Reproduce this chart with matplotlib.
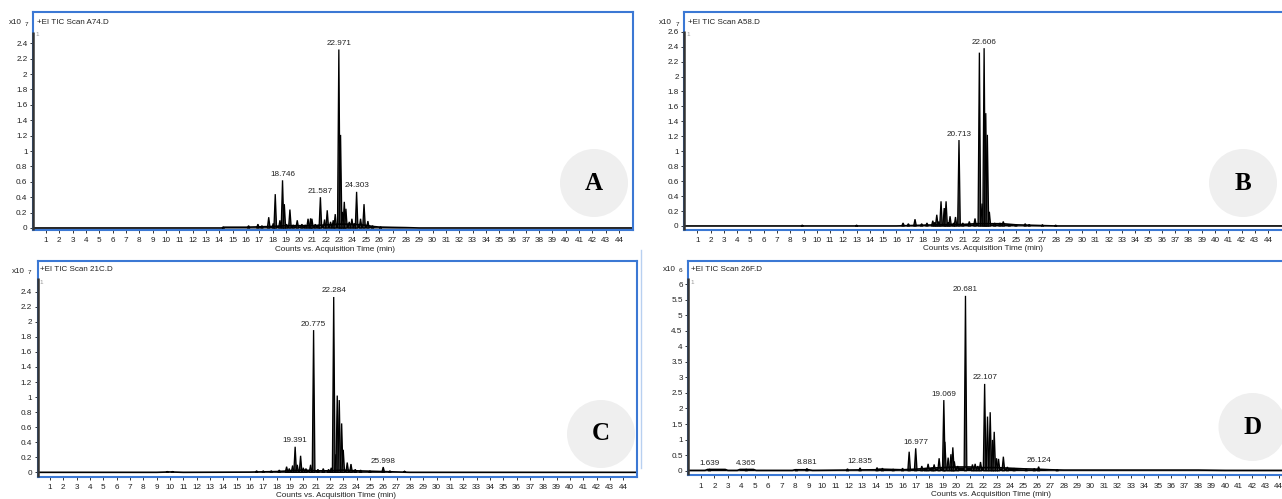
import matplotlib
matplotlib.use("Agg")
import matplotlib.pyplot as plt
from matplotlib.patches import Ellipse
from matplotlib.lines import Line2D

plt.rcParams['font.family'] = ['Liberation Sans', 'DejaVu Sans']
plt.rcParams['mathtext.default'] = 'regular'

W, H = 1282, 499
BLUE = '#3b78d4'
TXT = '#222222'

# ---------------- chromatogram data (retention time in min, abundance) ----------------
# Sample A74 (x10^7 counts)
a_peak_t = [14.3, 16.2, 16.9, 17.2, 17.71, 18.05, 18.2, 18.55, 18.746, 18.88, 19.05, 19.30,
            19.55, 19.85, 20.2, 20.45, 20.66, 20.85, 20.95, 21.2, 21.45, 21.587, 21.9, 22.10,
            22.35, 22.55, 22.7, 22.971, 23.1, 23.23, 23.38, 23.50, 23.75, 23.95, 24.15,
            24.303, 24.6, 24.86, 25.15, 25.5, 26.1]
a_peak_h = [0.01, 0.03, 0.05, 0.03, 0.14, 0.06, 0.44, 0.1, 0.62, 0.31, 0.05, 0.24,
            0.04, 0.10, 0.05, 0.04, 0.12, 0.125, 0.12, 0.05, 0.04, 0.40, 0.11, 0.23,
            0.08, 0.10, 0.18, 2.32, 1.21, 0.21, 0.34, 0.25, 0.08, 0.12, 0.06,
            0.47, 0.12, 0.31, 0.09, 0.03, 0.015]
a_base_t = [0, 14.2, 14.3, 16, 17, 18, 19, 20, 21, 22, 23, 24, 25, 25.5, 26, 27, 28, 29, 46]
a_base_v = [0, 0, 0.01, 0.01, 0.015, 0.02, 0.03, 0.03, 0.03, 0.04, 0.05, 0.05, 0.035, 0.02,
            0.012, 0.008, 0.005, 0.0, 0]
a_labels = [18.746, 21.587, 22.971, 24.303]

# Sample A58 (x10^7 counts)
b_peak_t = [8.9, 13.0, 16.5, 16.9, 17.4, 17.9, 18.3, 18.74, 18.9, 19.04, 19.2, 19.36, 19.6,
            19.74, 19.9, 20.04, 20.3, 20.45, 20.713, 21.0, 21.49, 21.92, 22.25, 22.45, 22.606,
            22.73, 22.85, 23.0, 23.4, 23.8, 24.05, 24.5, 25.0, 25.7, 26.0, 27.0, 28.0]
b_peak_h = [0.01, 0.01, 0.04, 0.03, 0.09, 0.03, 0.04, 0.07, 0.05, 0.15, 0.06, 0.33, 0.24,
            0.33, 0.05, 0.13, 0.04, 0.12, 1.15, 0.04, 0.06, 0.1, 2.32, 0.3, 2.38,
            1.51, 1.22, 0.19, 0.04, 0.04, 0.06, 0.02, 0.02, 0.03, 0.02, 0.015, 0.01]
b_base_t = [0, 16, 17, 18, 19, 20, 21, 22, 23, 24, 25, 26, 27, 28, 46]
b_base_v = [0, 0, 0.005, 0.01, 0.015, 0.02, 0.02, 0.03, 0.03, 0.03, 0.015, 0.01, 0.005, 0, 0]
b_labels = [20.713, 22.606]

# Sample 21C (x10^7 counts)
c_peak_t = [9.8, 10.2, 16.5, 17.0, 17.6, 18.2, 18.75, 18.95, 19.2, 19.391, 19.55, 19.8, 20.0,
            20.2, 20.55, 20.775, 21.1, 21.5, 21.9, 22.1, 22.284, 22.45, 22.55, 22.70, 22.88,
            23.0, 23.3, 23.58, 23.9, 24.3, 25.0, 25.998, 26.5, 27.6]
c_peak_h = [0.01, 0.01, 0.02, 0.02, 0.02, 0.03, 0.075, 0.05, 0.09, 0.34, 0.1, 0.22, 0.06,
            0.05, 0.1, 1.89, 0.04, 0.05, 0.04, 0.06, 2.33, 0.24, 1.02, 0.96, 0.65,
            0.3, 0.13, 0.11, 0.04, 0.03, 0.02, 0.07, 0.02, 0.015]
c_base_t = [0, 9, 10, 11, 16, 18, 19, 20, 21, 22, 23, 24, 25, 26, 27, 28, 46]
c_base_v = [0, 0, 0.005, 0, 0.003, 0.01, 0.02, 0.03, 0.02, 0.02, 0.03, 0.02, 0.015, 0.01,
            0.005, 0, 0]
c_labels = [19.391, 20.775, 22.284, 25.998]

# Sample 26F (x10^6 counts)
d_peak_t = [1.639, 4.365, 8.1, 8.881, 11.9, 12.835, 14.1, 14.5, 15.3, 16.0, 16.49, 16.977,
            17.43, 17.7, 17.9, 18.2, 18.35, 18.72, 19.069, 19.15, 19.39, 19.6, 19.74, 19.85,
            20.1, 20.681, 21.2, 21.4, 21.6, 21.8, 22.107, 22.32, 22.52, 22.69, 22.82, 22.99,
            23.14, 23.5, 23.8, 24.3, 25.2, 25.8, 26.124, 27.5]
d_peak_h = [0.05, 0.05, 0.04, 0.07, 0.06, 0.09, 0.1, 0.08, 0.05, 0.08, 0.61, 0.72,
            0.15, 0.08, 0.22, 0.1, 0.2, 0.4, 2.27, 0.93, 0.42, 0.53, 0.75, 0.3,
            0.15, 5.62, 0.2, 0.22, 0.15, 0.28, 2.79, 1.74, 1.88, 0.99, 1.25, 0.4,
            0.38, 0.45, 0.12, 0.08, 0.05, 0.07, 0.13, 0.03]
d_base_t = [0, 1.3, 1.5, 2.8, 3.0, 3.7, 3.9, 4.9, 5.1, 7.8, 8.0, 9.0, 9.3, 14.0, 14.3, 16,
            17, 18, 19, 20, 21, 22, 23, 24, 25, 26, 27, 28, 38, 40, 46]
d_base_v = [0.01, 0.01, 0.04, 0.04, 0.01, 0.01, 0.04, 0.04, 0.01, 0.01, 0.03, 0.03, 0.01,
            0.03, 0.05, 0.03, 0.05, 0.08, 0.1, 0.12, 0.12, 0.1, 0.1, 0.08, 0.06, 0.05, 0.03,
            0.02, 0.02, 0.01, 0.01]
d_labels = [1.639, 4.365, 8.881, 12.835, 16.977, 19.069, 20.681, 22.107, 26.124]

x_ticks = list(range(1, 45))
y_ticks_7a = [0, 0.2, 0.4, 0.6, 0.8, 1, 1.2, 1.4, 1.6, 1.8, 2, 2.2, 2.4]
y_ticks_7b = [0, 0.2, 0.4, 0.6, 0.8, 1, 1.2, 1.4, 1.6, 1.8, 2, 2.2, 2.4, 2.6]
y_ticks_6 = [0, 0.5, 1, 1.5, 2, 2.5, 3, 3.5, 4, 4.5, 5, 5.5, 6]

titles = ['+EI TIC Scan A74.D', '+EI TIC Scan A58.D', '+EI TIC Scan 21C.D', '+EI TIC Scan 26F.D']
exponents = ['7', '7', '7', '6']
letters = ['A', 'B', 'C', 'D']
x_title = 'Counts vs. Acquisition Time (min)'

HW = 0.1  # half-width of a drawn peak, min


def fx(x):
    return x / W


def fy(y):
    return 1 - y / H


def tick_str(v):
    return ('%g' % v)


fig = plt.figure(figsize=(W / 100, H / 100), dpi=100)
fig.patch.set_facecolor('white')

panels = [
    dict(box=(33, 633, 12, 230), xlim=(0.025, 45.04), ylim=(-0.026, 2.807), spine_top=0.91,
         t=a_peak_t, h=a_peak_h, bt=a_base_t, bv=a_base_v, labels=a_labels, yticks=y_ticks_7a,
         exp_xy=(8.5, 23), title_xy=(37, 22.5), one_xy=(35.5, 35), xlab_xy=(335, 249.5),
         circ=(594, 183)),
    dict(box=(684.3, 1292, 12, 230), xlim=(0.02, 45.8), ylim=(-0.054, 2.864), spine_top=0.914,
         t=b_peak_t, h=b_peak_h, bt=b_base_t, bv=b_base_v, labels=b_labels, yticks=y_ticks_7b,
         exp_xy=(659, 22.5), title_xy=(688, 22), one_xy=(686.5, 35), xlab_xy=(983, 248.5),
         circ=(1243, 183)),
    dict(box=(37.7, 637.3, 261, 476.7), xlim=(0.077, 45.06), ylim=(-0.058, 2.808), spine_top=0.92,
         t=c_peak_t, h=c_peak_h, bt=c_base_t, bv=c_base_v, labels=c_labels, yticks=y_ticks_7a,
         exp_xy=(11.5, 271.5), title_xy=(40, 269.5), one_xy=(39.5, 283), xlab_xy=(336, 495.5),
         circ=(601, 434)),
    dict(box=(688.3, 1292, 261, 475), xlim=(0.054, 44.98), ylim=(-0.138, 6.74), spine_top=0.919,
         t=d_peak_t, h=d_peak_h, bt=d_base_t, bv=d_base_v, labels=d_labels, yticks=y_ticks_6,
         exp_xy=(662.5, 269.5), title_xy=(691, 269.5), one_xy=(690.5, 283), xlab_xy=(991, 494.5),
         circ=(1252.5, 427)),
]

for i, p in enumerate(panels):
    l, r, top, bot = p['box']
    ax = fig.add_axes([fx(l), fy(bot), (r - l) / W, (bot - top) / H])
    ax.set_xlim(*p['xlim'])
    ax.set_ylim(*p['ylim'])
    for s in ax.spines.values():
        s.set_color(BLUE)
        s.set_linewidth(1.5)
    # y axis line
    ax.plot([0, 0], [0, p['spine_top']], transform=ax.transAxes, color='#333333', lw=1.8,
            clip_on=False, solid_capstyle='butt', zorder=5)

    # baseline
    ax.fill_between(p['bt'], p['bv'], 0, color='black', lw=0)
    ax.plot(p['bt'], p['bv'], color='black', lw=1.2)
    # peaks
    for ti, hi in zip(p['t'], p['h']):
        ax.fill([ti - HW, ti, ti + HW], [0, hi, 0], facecolor='#4a4a4a', edgecolor='black',
                lw=0.95, joinstyle='miter')

    # peak labels
    for lab in p['labels']:
        hi = p['h'][p['t'].index(lab)]
        ax.annotate('%.3f' % lab, xy=(lab, hi), xytext=(0, 1.8), textcoords='offset points',
                    ha='center', va='bottom', fontsize=5.9, color=TXT)

    ax.set_xticks(x_ticks)
    ax.set_xticklabels([str(v) for v in x_ticks])
    ax.set_yticks(p['yticks'])
    ax.set_yticklabels([tick_str(v) for v in p['yticks']])
    ax.tick_params(axis='x', direction='out', length=2.4, width=0.7, color='#333333',
                   labelcolor=TXT, labelsize=5.9, pad=3.0)
    ax.tick_params(axis='y', direction='out', length=2.2, width=0.7, color='#333333',
                   labelcolor=TXT, labelsize=5.9, pad=1.8)

    # headers and axis title
    ex, ey = p['exp_xy']
    fig.text(fx(ex), fy(ey), 'x10', fontsize=5.8, color=TXT, ha='left', va='center')
    fig.text(fx(ex + 16.5), fy(ey + 1.5), exponents[i], fontsize=4.6, color=TXT, ha='left',
             va='center')
    tx, ty = p['title_xy']
    fig.text(fx(tx), fy(ty), titles[i], fontsize=5.8, color=TXT, ha='left', va='center')
    ox, oy = p['one_xy']
    fig.text(fx(ox), fy(oy), '1', fontsize=4.5, color='#999999', ha='left', va='center')
    xx, xy = p['xlab_xy']
    fig.text(fx(xx), fy(xy), x_title, fontsize=5.9, color=TXT, ha='center', va='center')

    # panel letter badge
    cx, cy = p['circ']
    fig.add_artist(Ellipse((fx(cx), fy(cy)), width=2 * 34 / W, height=2 * 34 / H,
                           transform=fig.transFigure, facecolor='#efefef', edgecolor='none',
                           zorder=3))
    fig.text(fx(cx), fy(cy), letters[i], fontsize=18, fontweight='bold',
             family='Liberation Serif', color='black', ha='center', va='center', zorder=4)

# thin frame edge between the lower panels
fig.add_artist(Line2D([fx(641), fx(641)], [fy(250), fy(468)], color='#b8d0f0', lw=1.0))

fig.savefig('out.png', dpi=100, facecolor='white')
